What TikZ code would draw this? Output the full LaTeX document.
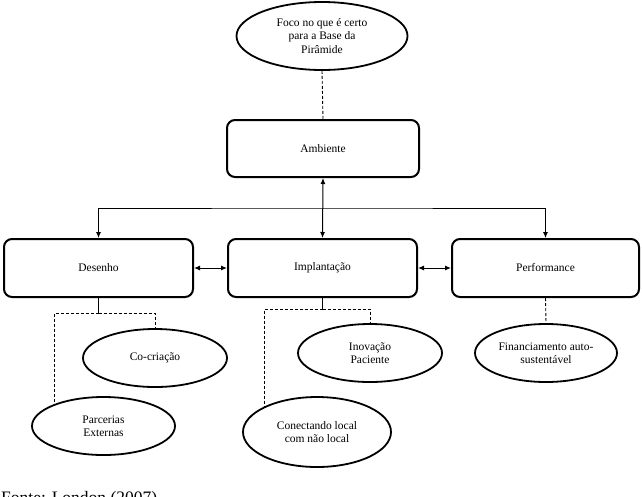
\documentclass[tikz,border=0pt]{standalone}
\usepackage{fontspec}
\setmainfont{Liberation Serif}
\usetikzlibrary{shapes.geometric,arrows.meta,backgrounds}
\begin{document}
\begin{tikzpicture}[x=1pt,y=-1pt,
  box/.style={draw,line width=2pt,rounded corners=8pt,fill=white,minimum width=188pt,minimum height=58pt,inner sep=0pt,font=\fontsize{11.5}{13.5}\selectfont},
  oval/.style={draw,ellipse,line width=1.8pt,fill=white,inner sep=0pt,align=center,minimum width=144pt,minimum height=58pt,font=\fontsize{11.5}{13.5}\selectfont},
  link/.style={line width=1pt},
  dashlink/.style={line width=0.9pt,dash pattern=on 3pt off 2pt},
  arr2/.style={{Latex[length=6pt,width=5pt]}-{Latex[length=6pt,width=5pt]}}
]
\useasboundingbox (0,0) rectangle (642,496);

\node[oval,minimum width=171pt,minimum height=68pt] (foco) at (322,36) {Foco no que é certo\\para a Base da\\Pirâmide};
\node[box,minimum width=192pt,minimum height=57pt] (amb) at (323,148.5) {Ambiente};
\node[box,minimum width=189pt] (des) at (98.5,268) {Desenho};
\node[box,minimum width=189pt] (imp) at (322.5,268) {Implantação};
\node[box,minimum width=187pt] (perf) at (545.5,268) {Performance};

\node[oval] (co) at (155,358) {Co-criação};
\node[oval,minimum width=143pt] (par) at (103.5,426) {Parcerias\\Externas};
\node[oval] (ino) at (370,353) {Inovação\\Paciente};
\node[oval,minimum width=148pt,minimum height=70pt] (con) at (317,432) {Conectando local\\com não local};
\node[oval,minimum width=142pt] (fin) at (546,353) {Financiamento auto-\\sustentável};

\coordinate (j) at (322.5,208);
\coordinate (dj) at (98.5,313);
\coordinate (dl) at (54,313);
\coordinate (ij) at (322.5,309);
\coordinate (il) at (264,309);

\begin{scope}[on background layer]
\draw[link,arr2] (imp.north) -- (amb.south);
\draw[link,arr2] (des.north) |- (j) -| (perf.north);
\draw[link,arr2] (des.east) -- (imp.west);
\draw[link,arr2] (imp.east) -- (perf.west);
\draw[dashlink] (foco.south) -- (amb.north);
\draw[link] (des.south) -- (dj);
\draw[dashlink] (dj) -| (co.north);
\draw[dashlink] (dj) -- (dl) -- (dl |- par.center);
\draw[link] (imp.south) -- (ij);
\draw[dashlink] (ij) -| (ino.north);
\draw[dashlink] (ij) -- (il) -- (il |- con.center);
\draw[dashlink] (perf.south) -- (fin.north);
\end{scope}

\node[anchor=base west,inner sep=0pt,font=\fontsize{17.5}{20}\selectfont] (fonte) at (1,503) {Fonte: London (2007)};
\end{tikzpicture}
\end{document}
